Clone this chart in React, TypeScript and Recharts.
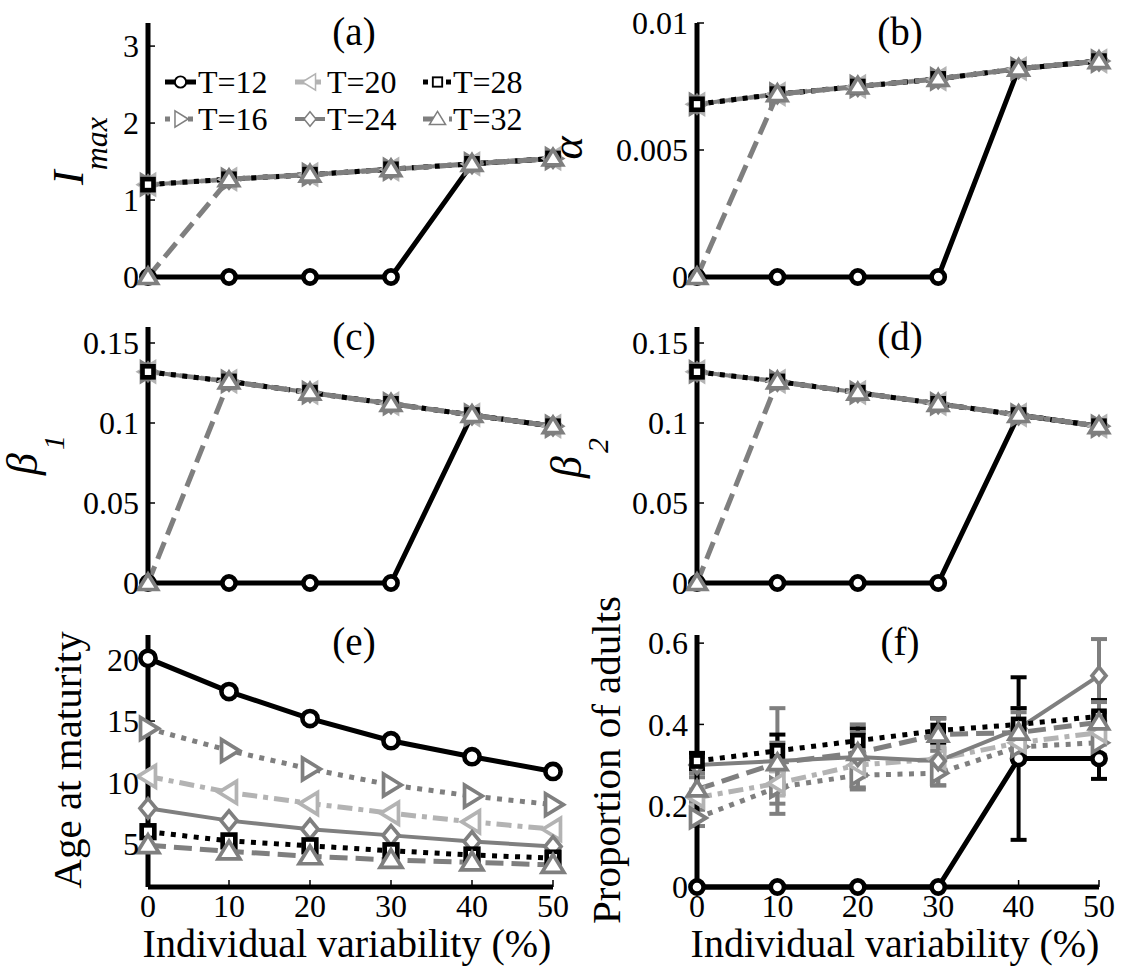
import React from 'react';
import { LineChart, Line, XAxis, YAxis, ErrorBar } from 'recharts';

const FONT = 'Liberation Serif, DejaVu Serif, serif';

// ---------- shared axis values ----------
const variability = [0, 10, 20, 30, 40, 50];
const xTickValues = [0, 10, 20, 30, 40, 50];

// ---------- (a) I_max ----------
const imaxT12 = [0, 0, 0, 0, 1.47, 1.54];
const imaxT16 = [1.2, 1.27, 1.33, 1.4, 1.47, 1.54];
const imaxT20 = [1.2, 1.27, 1.33, 1.4, 1.47, 1.54];
const imaxT24 = [1.2, 1.27, 1.33, 1.4, 1.47, 1.54];
const imaxT28 = [1.2, 1.27, 1.33, 1.4, 1.47, 1.54];
const imaxT32 = [0, 1.27, 1.33, 1.4, 1.47, 1.54];
const imaxTicks = [0, 1, 2, 3];

// ---------- (b) alpha ----------
const alphaT12 = [0, 0, 0, 0, 0.0082, 0.0085];
const alphaT16 = [0.0068, 0.0072, 0.0075, 0.0078, 0.0082, 0.0085];
const alphaT20 = [0.0068, 0.0072, 0.0075, 0.0078, 0.0082, 0.0085];
const alphaT24 = [0.0068, 0.0072, 0.0075, 0.0078, 0.0082, 0.0085];
const alphaT28 = [0.0068, 0.0072, 0.0075, 0.0078, 0.0082, 0.0085];
const alphaT32 = [0, 0.0072, 0.0075, 0.0078, 0.0082, 0.0085];
const alphaTicks = [0, 0.005, 0.01];

// ---------- (c) beta_1 ----------
const beta1T12 = [0, 0, 0, 0, 0.105, 0.098];
const beta1T16 = [0.132, 0.126, 0.119, 0.112, 0.105, 0.098];
const beta1T20 = [0.132, 0.126, 0.119, 0.112, 0.105, 0.098];
const beta1T24 = [0.132, 0.126, 0.119, 0.112, 0.105, 0.098];
const beta1T28 = [0.132, 0.126, 0.119, 0.112, 0.105, 0.098];
const beta1T32 = [0, 0.126, 0.119, 0.112, 0.105, 0.098];

// ---------- (d) beta_2 ----------
const beta2T12 = [0, 0, 0, 0, 0.105, 0.098];
const beta2T16 = [0.132, 0.126, 0.119, 0.112, 0.105, 0.098];
const beta2T20 = [0.132, 0.126, 0.119, 0.112, 0.105, 0.098];
const beta2T24 = [0.132, 0.126, 0.119, 0.112, 0.105, 0.098];
const beta2T28 = [0.132, 0.126, 0.119, 0.112, 0.105, 0.098];
const beta2T32 = [0, 0.126, 0.119, 0.112, 0.105, 0.098];
const betaTicks = [0, 0.05, 0.1, 0.15];

// ---------- (e) age at maturity ----------
const ageT12 = [20.1, 17.4, 15.2, 13.4, 12.1, 10.9];
const ageT16 = [14.4, 12.6, 11.1, 9.8, 8.9, 8.2];
const ageT20 = [10.5, 9.2, 8.3, 7.5, 6.8, 6.2];
const ageT24 = [7.9, 6.9, 6.2, 5.7, 5.2, 4.8];
const ageT28 = [6.0, 5.25, 4.85, 4.45, 4.1, 3.85];
const ageT32 = [4.9, 4.4, 4.0, 3.7, 3.5, 3.3];
const ageTicks = [5, 10, 15, 20];

// ---------- (f) proportion of adults ----------
const adultsT12 = [0, 0, 0, 0, 0.316, 0.316];
const adultsT16 = [0.17, 0.245, 0.275, 0.28, 0.345, 0.355];
const adultsT20 = [0.22, 0.255, 0.3, 0.315, 0.355, 0.38];
const adultsT24 = [0.3, 0.31, 0.32, 0.31, 0.39, 0.52];
const adultsT28 = [0.31, 0.335, 0.36, 0.385, 0.4, 0.42];
const adultsT32 = [0.24, 0.305, 0.33, 0.375, 0.38, 0.405];
const adultsErrT12 = [0, 0, 0, 0, 0.2, 0.05];
const adultsErrT16 = [0.02, 0.04, 0.03, 0.03, 0.03, 0.03];
const adultsErrT20 = [0.02, 0.03, 0.03, 0.03, 0.03, 0.03];
const adultsErrT24 = [0.02, 0.13, 0.08, 0.06, 0.05, 0.09];
const adultsErrT28 = [0.02, 0.04, 0.03, 0.03, 0.04, 0.04];
const adultsErrT32 = [0.03, 0.05, 0.05, 0.04, 0.05, 0.05];
const adultsTicks = [0, 0.2, 0.4, 0.6];

// ---------- series styles ----------
type Shape = 'circle' | 'right' | 'left' | 'diamond' | 'square' | 'up';
type Style = { key: string; name: string; color: string; dash?: string; width: number; shape: Shape };
const STYLES: Style[] = [
  { key: 'T12', name: 'T=12', color: '#000000', width: 5, shape: 'circle' },
  { key: 'T16', name: 'T=16', color: '#7f7f7f', dash: '5 6.5', width: 5, shape: 'right' },
  { key: 'T20', name: 'T=20', color: '#b3b3b3', dash: '15 6 5 6', width: 5, shape: 'left' },
  { key: 'T24', name: 'T=24', color: '#7f7f7f', width: 4, shape: 'diamond' },
  { key: 'T28', name: 'T=28', color: '#000000', dash: '5 6.5', width: 5, shape: 'square' },
  { key: 'T32', name: 'T=32', color: '#7f7f7f', dash: '18 8', width: 5, shape: 'up' },
];

function markerEl(shape: Shape, cx: number, cy: number, color: string, s: number, sw: number, key?: string) {
  const common = { fill: '#ffffff', stroke: color, strokeWidth: sw, strokeLinejoin: 'miter' as const };
  switch (shape) {
    case 'circle':
      return <circle key={key} cx={cx} cy={cy} r={6.6 * s} {...common} strokeWidth={sw * 1.25} />;
    case 'square':
      return <rect key={key} x={cx - 5.5 * s} y={cy - 5.5 * s} width={11 * s} height={11 * s} {...common} strokeWidth={sw * 1.25} />;
    case 'diamond':
      return <polygon key={key} points={`${cx},${cy - 8.5 * s} ${cx + 7 * s},${cy} ${cx},${cy + 8.5 * s} ${cx - 7 * s},${cy}`} {...common} />;
    case 'up':
      return <polygon key={key} points={`${cx},${cy - 9 * s} ${cx + 9.5 * s},${cy + 6.5 * s} ${cx - 9.5 * s},${cy + 6.5 * s}`} {...common} />;
    case 'right':
      return <polygon key={key} points={`${cx + 9 * s},${cy} ${cx - 6.5 * s},${cy - 9.5 * s} ${cx - 6.5 * s},${cy + 9.5 * s}`} {...common} />;
    case 'left':
    default:
      return <polygon key={key} points={`${cx - 9 * s},${cy} ${cx + 6.5 * s},${cy - 9.5 * s} ${cx + 6.5 * s},${cy + 9.5 * s}`} {...common} />;
  }
}

type PanelProps = {
  box: [number, number, number, number];
  plot: [number, number, number, number];
  values: number[][];
  errors?: number[][];
  domain: [number, number];
  ticks: number[];
  showXTicks: boolean;
  scale: number;
};

const tickStyle = { fill: '#000000', fontSize: 32, fontFamily: FONT, style: { fontFamily: FONT } };

function Panel({ box, plot, values, errors, domain, ticks, showXTicks, scale }: PanelProps) {
  const [left, top, width, height] = box;
  const [x0, y0, x1, y1] = plot;
  const xh = showXTicks ? 40 : 0;
  const rows = variability.map((x, i) => {
    const r: Record<string, number> = { x };
    STYLES.forEach((s, k) => {
      r[s.key] = values[k][i];
      if (errors) r[s.key + 'e'] = errors[k][i];
    });
    return r;
  });
  return (
    <div style={{ position: 'absolute', left, top, width, height, fontFamily: FONT }}>
      <LineChart
        width={width}
        height={height}
        data={rows}
        style={{ fontFamily: FONT }}
        margin={{ top: y0 - top, right: left + width - x1, bottom: top + height - y1 - xh, left: 0 }}
      >
        <XAxis
          dataKey="x"
          type="number"
          domain={[0, 50]}
          ticks={xTickValues}
          interval={0}
          height={xh}
          axisLine={{ stroke: '#000', strokeWidth: 5 }}
          tickLine={{ stroke: '#000', strokeWidth: 1.5 }}
          tickSize={-7}
          tickMargin={14}
          tick={showXTicks ? tickStyle : false}
        />
        <YAxis
          type="number"
          domain={domain}
          ticks={ticks}
          interval={0}
          width={x0 - left}
          axisLine={{ stroke: '#000', strokeWidth: 5 }}
          tickLine={{ stroke: '#000', strokeWidth: 1.5 }}
          tickSize={-7}
          tickMargin={16}
          tick={tickStyle}
          tickFormatter={(v: number) => String(v)}
        />
        {STYLES.map((s) => (
          <Line
            key={s.key}
            type="linear"
            dataKey={s.key}
            stroke={s.color}
            strokeWidth={s.width}
            strokeDasharray={s.dash}
            isAnimationActive={false}
            activeDot={false}
            dot={(p: any) => markerEl(s.shape, p.cx, p.cy, s.color, scale, 3.7, `${s.key}-${p.index}`)}
          >
            {errors ? (
              <ErrorBar dataKey={s.key + 'e'} width={8} stroke={s.color} strokeWidth={4} direction="y" />
            ) : null}
          </Line>
        ))}
      </LineChart>
    </div>
  );
}

// ---------- legend layout (panel a) ----------
const legendOrder = [
  ['T12', 'T16'],
  ['T20', 'T24'],
  ['T28', 'T32'],
];
const legendCols = [
  { lx0: 165, lx1: 196, tx: 198 },
  { lx0: 295, lx1: 325, tx: 327 },
  { lx0: 423, lx1: 452, tx: 453 },
];
const legendRows = [82, 119];

function Overlay() {
  const txt = { fontFamily: FONT, fill: '#000', style: { fontFamily: FONT } };
  const titles = [
    { t: '(a)', x: 354, y: 45 },
    { t: '(b)', x: 900, y: 45 },
    { t: '(c)', x: 354, y: 350 },
    { t: '(d)', x: 900, y: 350 },
    { t: '(e)', x: 354, y: 655 },
    { t: '(f)', x: 900, y: 655 },
  ];
  return (
    <svg
      width={1123}
      height={968}
      style={{ position: 'absolute', left: 0, top: 0, pointerEvents: 'none', overflow: 'visible' }}
    >
      {titles.map((d) => (
        <text key={d.t} x={d.x} y={d.y} textAnchor="middle" fontSize={39} {...txt}>
          {d.t}
        </text>
      ))}
      <text x={347} y={957} textAnchor="middle" fontSize={40} {...txt}>Individual variability (%)</text>
      <text x={895} y={957} textAnchor="middle" fontSize={40} {...txt}>Individual variability (%)</text>
      <text transform="translate(81,760) rotate(-90)" textAnchor="middle" fontSize={41} {...txt}>Age at maturity</text>
      <text transform="translate(620,760) rotate(-90)" textAnchor="middle" fontSize={41} {...txt}>Proportion of adults</text>
      <text transform="translate(83,151) rotate(-90)" textAnchor="middle" fontStyle="italic" {...txt}>
        <tspan fontSize={44}>I</tspan>
        <tspan fontSize={32} dy={24}>max</tspan>
      </text>
      <text transform="translate(582,148) rotate(-90)" textAnchor="middle" fontStyle="italic" fontSize={44} {...txt}>α</text>
      <text transform="translate(37,455) rotate(-90)" textAnchor="middle" fontStyle="italic" {...txt}>
        <tspan fontSize={44}>β</tspan>
        <tspan fontSize={30} dx={3} dy={27}>1</tspan>
      </text>
      <text transform="translate(581,458) rotate(-90)" textAnchor="middle" fontStyle="italic" {...txt}>
        <tspan fontSize={44}>β</tspan>
        <tspan fontSize={30} dx={3} dy={27}>2</tspan>
      </text>
      {legendOrder.map((col, ci) =>
        col.map((key, ri) => {
          const s = STYLES.find((st) => st.key === key)!;
          const c = legendCols[ci];
          const y = legendRows[ri];
          return (
            <g key={key}>
              <line x1={c.lx0} x2={c.lx1} y1={y} y2={y} stroke={s.color} strokeWidth={s.width} strokeDasharray={s.dash} />
              {markerEl(s.shape, (c.lx0 + c.lx1) / 2, y, s.color, 0.85, 1.5)}
              <text x={c.tx} y={y + 11} fontSize={32} {...txt}>{s.name}</text>
            </g>
          );
        })
      )}
    </svg>
  );
}

export default function App() {
  return (
    <div style={{ position: 'absolute', left: 0, top: 0, width: 1123, height: 968, background: '#fff', fontFamily: FONT }}>
      <Panel
        box={[0, 0, 580, 300]}
        plot={[148, 23, 553, 277]}
        values={[imaxT12, imaxT16, imaxT20, imaxT24, imaxT28, imaxT32]}
        domain={[0, 3.3]}
        ticks={imaxTicks}
        showXTicks={false}
        scale={1}
      />
      <Panel
        box={[580, 0, 543, 300]}
        plot={[697, 23, 1099, 277]}
        values={[alphaT12, alphaT16, alphaT20, alphaT24, alphaT28, alphaT32]}
        domain={[0, 0.01]}
        ticks={alphaTicks}
        showXTicks={false}
        scale={1}
      />
      <Panel
        box={[0, 300, 580, 300]}
        plot={[148, 327, 553, 583]}
        values={[beta1T12, beta1T16, beta1T20, beta1T24, beta1T28, beta1T32]}
        domain={[0, 0.16]}
        ticks={betaTicks}
        showXTicks={false}
        scale={1}
      />
      <Panel
        box={[580, 300, 543, 300]}
        plot={[697, 327, 1099, 583]}
        values={[beta2T12, beta2T16, beta2T20, beta2T24, beta2T28, beta2T32]}
        domain={[0, 0.16]}
        ticks={betaTicks}
        showXTicks={false}
        scale={1}
      />
      <Panel
        box={[0, 600, 580, 368]}
        plot={[148, 635, 553, 887]}
        values={[ageT12, ageT16, ageT20, ageT24, ageT28, ageT32]}
        domain={[1.5, 22]}
        ticks={ageTicks}
        showXTicks={true}
        scale={1.15}
      />
      <Panel
        box={[580, 600, 543, 368]}
        plot={[697, 635, 1099, 887]}
        values={[adultsT12, adultsT16, adultsT20, adultsT24, adultsT28, adultsT32]}
        errors={[adultsErrT12, adultsErrT16, adultsErrT20, adultsErrT24, adultsErrT28, adultsErrT32]}
        domain={[0, 0.62]}
        ticks={adultsTicks}
        showXTicks={true}
        scale={1}
      />
      <Overlay />
    </div>
  );
}
